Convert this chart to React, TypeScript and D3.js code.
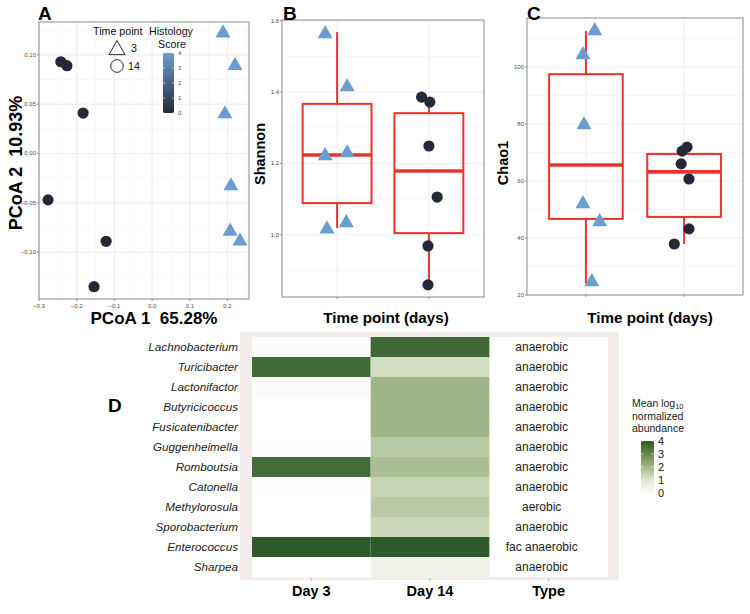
import React from "react";
import * as d3 from "d3";

// ---------- Panel A data (PCoA) ----------
const pcoaX = [-0.242, -0.226, -0.183, -0.276, -0.122, -0.154, 0.188, 0.220, 0.193, 0.209, 0.207, 0.233];
const pcoaY = [0.093, 0.089, 0.041, -0.047, -0.089, -0.135, 0.123, 0.090, 0.041, -0.032, -0.078, -0.088];
const pcoaTime = [14, 14, 14, 14, 14, 14, 3, 3, 3, 3, 3, 3];
const pcoaHisto = [0, 0, 0, 0, 0, 0, 4, 4, 4, 4, 4, 4];
const pcoaXTicks = [-0.3, -0.2, -0.1, 0.0, 0.1, 0.2];
const pcoaYTicks = [-0.1, -0.05, 0.0, 0.05, 0.1];
const histoTicks = [0, 1, 2, 3, 4];

// ---------- Panel B/C data (alpha diversity) ----------
const timeCats = ["3", "14"];
const shannonDay3 = [1.566, 1.417, 1.224, 1.232, 1.019, 1.036];
const shannonDay3Jit = [-0.13, 0.11, -0.13, 0.11, -0.11, 0.1];
const shannonDay14 = [1.386, 1.372, 1.249, 1.106, 0.969, 0.86];
const shannonDay14Jit = [-0.08, 0.01, 0.0, 0.09, -0.01, -0.01];
// box stats: [lowerWhisker, q1, median, q3, upperWhisker]
const shannonBox3 = [1.019, 1.089, 1.224, 1.367, 1.568];
const shannonBox14 = [0.86, 1.005, 1.179, 1.341, 1.383];
const shannonTicks = [1.0, 1.2, 1.4, 1.6];
const shannonMinor = [0.9, 1.1, 1.3, 1.5];

const chaoDay3 = [113.0, 104.6, 80.0, 52.3, 46.0, 24.9];
const chaoDay3Jit = [0.09, -0.03, -0.02, -0.03, 0.14, 0.06];
const chaoDay14 = [71.9, 70.5, 66.0, 60.7, 43.2, 37.9];
const chaoDay14Jit = [0.03, -0.02, -0.03, 0.05, 0.05, -0.1];
const chaoBox3 = [24.2, 46.7, 65.6, 97.5, 112.6];
const chaoBox14 = [37.9, 47.4, 63.2, 69.5, 72.0];
const chaoTicks = [20, 40, 60, 80, 100];
const chaoMinor = [30, 50, 70, 90, 110];

// ---------- Panel D data (heatmap) ----------
const genera = [
  "Lachnobacterium", "Turicibacter", "Lactonifactor", "Butyricicoccus", "Fusicatenibacter",
  "Guggenheimella", "Romboutsia", "Catonella", "Methylorosula", "Sporobacterium",
  "Enterococcus", "Sharpea",
];
const day3Abund = [0.08, 3.65, 0.12, 0, 0, 0.03, 3.6, 0.07, 0, 0, 4.0, 0];
const day14Abund = [3.7, 1.2, 2.05, 2.05, 2.05, 1.6, 1.85, 1.4, 1.6, 1.35, 4.05, 0.5];
const oxygenType = [
  "anaerobic", "anaerobic", "anaerobic", "anaerobic", "anaerobic", "anaerobic",
  "anaerobic", "anaerobic", "aerobic", "anaerobic", "fac anaerobic", "anaerobic",
];
const heatCols = ["Day 3", "Day 14", "Type"];
const abundTicks = [0, 1, 2, 3, 4];

const FONT = "'Liberation Sans', Arial, Helvetica, sans-serif";
const RED = "#e8352b";
const GRID = "#ebebeb";
const GRID_MINOR = "#f4f4f4";
const BORDER = "#8a8a8a";

const histoColor = d3.scaleLinear<string>().domain([0, 4]).range(["#242938", "#6b9dd1"]).interpolate(d3.interpolateRgb);
const abundColor = d3
  .scaleLinear<string>()
  .domain([0, 1, 2, 3, 4])
  .range(["#ffffff", "#dfe7cf", "#a2b78a", "#66884f", "#2e5a2b"])
  .clamp(true);

function trianglePath(cx: number, cy: number, w: number) {
  const h = w * 0.88;
  return `M${cx},${cy - h * 0.6}L${cx + w / 2},${cy + h * 0.4}L${cx - w / 2},${cy + h * 0.4}Z`;
}

function fmtTick(v: number, digits: number) {
  const s = v.toFixed(digits);
  return s.replace("-", "\u2212");
}

function PanelA() {
  const left = 39, right = 249, top = 22, bottom = 299;
  const x = d3.scaleLinear().domain([-0.3, 0.257]).range([left, right]);
  const y = d3.scaleLinear().domain([-0.1475, 0.1333]).range([bottom, top]);
  const xMinor = d3.range(-0.3, 0.26, 0.05);
  const yMinor = d3.range(-0.125, 0.13, 0.025);
  const cbar = d3.scaleLinear().domain([0, 4]).range([113, 53]);
  return (
    <g>
      <rect x={left} y={top} width={right - left} height={bottom - top} fill="#fff" />
      {xMinor.map((v, i) => (
        <line key={"xm" + i} x1={x(v)} x2={x(v)} y1={top} y2={bottom} stroke={GRID_MINOR} strokeWidth={0.6} />
      ))}
      {yMinor.map((v, i) => (
        <line key={"ym" + i} x1={left} x2={right} y1={y(v)} y2={y(v)} stroke={GRID_MINOR} strokeWidth={0.6} />
      ))}
      {pcoaXTicks.map((v, i) => (
        <line key={"xg" + i} x1={x(v)} x2={x(v)} y1={top} y2={bottom} stroke={GRID} strokeWidth={0.8} />
      ))}
      {pcoaYTicks.map((v, i) => (
        <line key={"yg" + i} x1={left} x2={right} y1={y(v)} y2={y(v)} stroke={GRID} strokeWidth={0.8} />
      ))}
      {pcoaX.map((v, i) =>
        pcoaTime[i] === 3 ? (
          <path key={"p" + i} d={trianglePath(x(v), y(pcoaY[i]), 15)} fill={histoColor(pcoaHisto[i])} />
        ) : (
          <circle key={"p" + i} cx={x(v)} cy={y(pcoaY[i])} r={5.6} fill={histoColor(pcoaHisto[i])} />
        )
      )}
      <rect x={left} y={top} width={right - left} height={bottom - top} fill="none" stroke={BORDER} strokeWidth={1} />
      {pcoaXTicks.map((v, i) => (
        <g key={"xt" + i}>
          <line x1={x(v)} x2={x(v)} y1={bottom} y2={bottom + 2} stroke="#555" strokeWidth={0.6} />
          <text x={x(v)} y={bottom + 9} fontSize={6} fill="#4d4d4d" textAnchor="middle" fontFamily={FONT}>
            {fmtTick(v, 1)}
          </text>
        </g>
      ))}
      {pcoaYTicks.map((v, i) => (
        <g key={"yt" + i}>
          <line x1={left - 2} x2={left} y1={y(v)} y2={y(v)} stroke="#555" strokeWidth={0.6} />
          <text x={left - 3} y={y(v) + 2} fontSize={6} fill="#4d4d4d" textAnchor="end" fontFamily={FONT}>
            {fmtTick(v, 2)}
          </text>
        </g>
      ))}
      <text x={38} y={20} fontSize={19} fontWeight="bold" fontFamily={FONT}>A</text>
      <text x={154} y={324} fontSize={17} fontWeight="bold" textAnchor="middle" fontFamily={FONT} style={{ whiteSpace: "pre" }}>
        {"PCoA 1  65.28%"}
      </text>
      <text
        transform={`translate(22,163) rotate(-90)`}
        fontSize={18}
        fontWeight="bold"
        textAnchor="middle"
        fontFamily={FONT}
        style={{ whiteSpace: "pre" }}
      >
        {"PCoA 2  10.93%"}
      </text>
      {/* legend */}
      <text x={93} y={35} fontSize={10.7} fontFamily={FONT} fill="#111">Time point</text>
      <text x={149} y={35} fontSize={10.7} fontFamily={FONT} fill="#111">Histology</text>
      <text x={172} y={48} fontSize={10.7} fontFamily={FONT} fill="#111" textAnchor="middle">Score</text>
      <path d={trianglePath(117, 49, 16)} fill="none" stroke="#111" strokeWidth={0.9} />
      <text x={131} y={52} fontSize={10.7} fontFamily={FONT} fill="#111">3</text>
      <circle cx={117} cy={66} r={6.3} fill="none" stroke="#111" strokeWidth={0.9} />
      <text x={128} y={70} fontSize={10.7} fontFamily={FONT} fill="#111">14</text>
      <defs>
        <linearGradient id="histoGrad" x1="0" y1="1" x2="0" y2="0">
          {histoTicks.map((t) => (
            <stop key={t} offset={t / 4} stopColor={histoColor(t)} />
          ))}
        </linearGradient>
        <linearGradient id="abundGrad" x1="0" y1="1" x2="0" y2="0">
          {abundTicks.map((t) => (
            <stop key={t} offset={t / 4} stopColor={abundColor(t)} />
          ))}
        </linearGradient>
      </defs>
      <rect x={163} y={53} width={11} height={60} fill="url(#histoGrad)" />
      {histoTicks.map((t) => (
        <g key={"hc" + t}>
          <line x1={163} x2={165} y1={cbar(t)} y2={cbar(t)} stroke="#fff" strokeWidth={0.6} />
          <line x1={172} x2={174} y1={cbar(t)} y2={cbar(t)} stroke="#fff" strokeWidth={0.6} />
          <text x={178} y={cbar(t) + 2} fontSize={6} fill="#4d4d4d" fontFamily={FONT}>{t}</text>
        </g>
      ))}
    </g>
  );
}

function BoxPanel(props: {
  left: number; right: number; top: number; bottom: number;
  domain: [number, number]; ticks: number[]; minor: number[]; digits: number;
  vals3: number[]; jit3: number[]; vals14: number[]; jit14: number[];
  box3: number[]; box14: number[];
  letter: string; letterX: number; ylab: string; ylabX: number; ylabY: number; xlabX: number;
}) {
  const p = props;
  // ggplot discrete: positions 1,2 with 0.6 expansion on each side
  const xl = d3.scaleLinear().domain([0.4, 2.6]).range([p.left, p.right]);
  const y = d3.scaleLinear().domain(p.domain).range([p.bottom, p.top]);
  const boxes = [p.box3, p.box14];
  const halfW = 0.375;
  return (
    <g>
      <rect x={p.left} y={p.top} width={p.right - p.left} height={p.bottom - p.top} fill="#fff" />
      {p.minor.map((v, i) => (
        <line key={"m" + i} x1={p.left} x2={p.right} y1={y(v)} y2={y(v)} stroke={GRID_MINOR} strokeWidth={0.6} />
      ))}
      {p.ticks.map((v, i) => (
        <line key={"g" + i} x1={p.left} x2={p.right} y1={y(v)} y2={y(v)} stroke={GRID} strokeWidth={0.8} />
      ))}
      {timeCats.map((c, i) => (
        <line key={"vg" + c} x1={xl(i + 1)} x2={xl(i + 1)} y1={p.top} y2={p.bottom} stroke={GRID} strokeWidth={0.8} />
      ))}
      {boxes.map((b, i) => {
        const cx = xl(i + 1);
        const x0 = xl(i + 1 - halfW), x1 = xl(i + 1 + halfW);
        return (
          <g key={"b" + i}>
            <line x1={cx} x2={cx} y1={y(b[3])} y2={y(b[4])} stroke={RED} strokeWidth={2} />
            <line x1={cx} x2={cx} y1={y(b[1])} y2={y(b[0])} stroke={RED} strokeWidth={2} />
            <rect x={x0} y={y(b[3])} width={x1 - x0} height={y(b[1]) - y(b[3])} fill="none" stroke={RED} strokeWidth={2} />
            <line x1={x0} x2={x1} y1={y(b[2])} y2={y(b[2])} stroke={RED} strokeWidth={3.6} />
          </g>
        );
      })}
      {p.vals3.map((v, i) => (
        <path key={"t" + i} d={trianglePath(xl(1 + p.jit3[i]), y(v), 15)} fill={histoColor(4)} />
      ))}
      {p.vals14.map((v, i) => (
        <circle key={"c" + i} cx={xl(2 + p.jit14[i])} cy={y(v)} r={5.6} fill={histoColor(0)} />
      ))}
      <rect x={p.left} y={p.top} width={p.right - p.left} height={p.bottom - p.top} fill="none" stroke={BORDER} strokeWidth={1} />
      {p.ticks.map((v, i) => (
        <g key={"yt" + i}>
          <line x1={p.left - 2} x2={p.left} y1={y(v)} y2={y(v)} stroke="#555" strokeWidth={0.6} />
          <text x={p.left - 3} y={y(v) + 2} fontSize={6} fill="#4d4d4d" textAnchor="end" fontFamily={FONT}>
            {v.toFixed(p.digits)}
          </text>
        </g>
      ))}
      {timeCats.map((c, i) => (
        <line key={"xt" + c} x1={xl(i + 1)} x2={xl(i + 1)} y1={p.bottom} y2={p.bottom + 2} stroke="#555" strokeWidth={0.6} />
      ))}
      <text x={p.letterX} y={20} fontSize={19} fontWeight="bold" fontFamily={FONT}>{p.letter}</text>
      <text
        transform={`translate(${p.ylabX},${p.ylabY}) rotate(-90)`}
        fontSize={14.5}
        fontWeight="bold"
        textAnchor="middle"
        fontFamily={FONT}
      >
        {p.ylab}
      </text>
      <text x={p.xlabX} y={323} fontSize={15.2} fontWeight="bold" textAnchor="middle" fontFamily={FONT}>
        Time point (days)
      </text>
    </g>
  );
}

function PanelD() {
  const left = 252, right = 608, top = 337, bottom = 577;
  const colW = (right - left) / 3;
  const xc = d3.scaleBand().domain(heatCols).range([left, right]);
  const yr = d3.scaleBand().domain(genera).range([top, bottom]);
  const leg = d3.scaleLinear().domain([0, 4]).range([493, 441]);
  const columns = [day3Abund, day14Abund];
  return (
    <g>
      <rect x={240} y={332} width={379} height={248} fill="#f3eceb" />
      <rect x={left} y={top} width={right - left} height={bottom - top} fill="#fff" />
      {columns.map((col, ci) =>
        genera.map((g, ri) => (
          <rect
            key={ci + "-" + g}
            x={xc(heatCols[ci])!}
            y={yr(g)!}
            width={xc.bandwidth()}
            height={yr.bandwidth() + 0.5}
            fill={abundColor(col[ri])}
          />
        ))
      )}
      {genera.map((g) => (
        <text
          key={"lab" + g}
          x={238}
          y={yr(g)! + yr.bandwidth() / 2 + 4}
          fontSize={11.7}
          fontStyle="italic"
          textAnchor="end"
          fill="#222"
          fontFamily={FONT}
        >
          {g}
        </text>
      ))}
      {oxygenType.map((t, ri) => (
        <text
          key={"ty" + ri}
          x={xc("Type")! + colW / 2 - 7}
          y={yr(genera[ri])! + yr.bandwidth() / 2 + 4}
          fontSize={12}
          textAnchor="middle"
          fill="#222"
          fontFamily={FONT}
        >
          {t}
        </text>
      ))}
      {heatCols.map((c) => (
        <g key={"col" + c}>
          <line x1={xc(c)! + colW / 2} x2={xc(c)! + colW / 2} y1={578} y2={581} stroke="#888" strokeWidth={0.6} />
          <text x={xc(c)! + colW / 2} y={596} fontSize={14.5} fontWeight="bold" textAnchor="middle" fontFamily={FONT}>
            {c}
          </text>
        </g>
      ))}
      <text x={108} y={412} fontSize={19} fontWeight="bold" fontFamily={FONT}>D</text>
      {/* legend */}
      <text x={632} y={407} fontSize={10.5} fill="#222" fontFamily={FONT}>
        Mean log<tspan fontSize={7.5} dy={2}>10</tspan>
      </text>
      <text x={632} y={419.5} fontSize={10.5} fill="#222" fontFamily={FONT}>normalized</text>
      <text x={632} y={431.5} fontSize={10.5} fill="#222" fontFamily={FONT}>abundance</text>
      <rect x={641} y={441} width={13} height={52} fill="url(#abundGrad)" />
      {abundTicks.map((t) => (
        <g key={"al" + t}>
          <line x1={641} x2={643.5} y1={leg(t)} y2={leg(t)} stroke="#fff" strokeWidth={0.6} />
          <line x1={651.5} x2={654} y1={leg(t)} y2={leg(t)} stroke="#fff" strokeWidth={0.6} />
          <text x={658} y={leg(t) + 4} fontSize={11} fill="#222" fontFamily={FONT}>{t}</text>
        </g>
      ))}
    </g>
  );
}

export default function App() {
  return (
    <svg
      width={750}
      height={614}
      viewBox="0 0 750 614"
      style={{ position: "absolute", left: 0, top: 0, background: "#fff" }}
      fontFamily={FONT}
    >
      <rect x={0} y={0} width={750} height={614} fill="#fff" />
      <PanelA />
      <BoxPanel
        left={282} right={484} top={20} bottom={297}
        domain={[0.826, 1.602]} ticks={shannonTicks} minor={shannonMinor} digits={1}
        vals3={shannonDay3} jit3={shannonDay3Jit} vals14={shannonDay14} jit14={shannonDay14Jit}
        box3={shannonBox3} box14={shannonBox14}
        letter="B" letterX={283} ylab="Shannon" ylabX={265} ylabY={154} xlabX={386}
      />
      <BoxPanel
        left={527} right={743} top={18} bottom={295}
        domain={[20, 117.2]} ticks={chaoTicks} minor={chaoMinor} digits={0}
        vals3={chaoDay3} jit3={chaoDay3Jit} vals14={chaoDay14} jit14={chaoDay14Jit}
        box3={chaoBox3} box14={chaoBox14}
        letter="C" letterX={527} ylab="Chao1" ylabX={508} ylabY={163} xlabX={650}
      />
      <PanelD />
    </svg>
  );
}
